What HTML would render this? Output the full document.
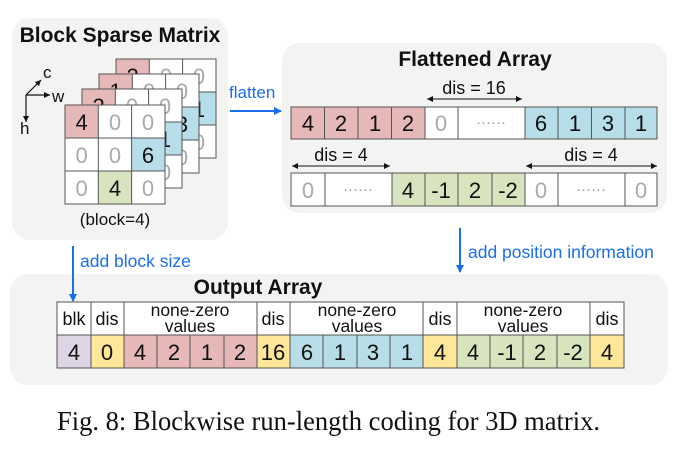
<!DOCTYPE html>
<html><head><style>
body{margin:0;background:#fff;}
svg text{font-family:"Liberation Sans",Arial,sans-serif;}
</style></head><body>
<svg width="685" height="451" viewBox="0 0 685 451" xmlns="http://www.w3.org/2000/svg">
<defs>
<marker id="ab" markerWidth="8" markerHeight="8" refX="7" refY="4" orient="auto" markerUnits="userSpaceOnUse"><path d="M0,0 L8,4 L0,8 z" fill="#1a6fe8"/></marker>
<marker id="ak" markerWidth="6" markerHeight="6" refX="6" refY="3" orient="auto-start-reverse" markerUnits="userSpaceOnUse"><path d="M0,0 L6,3 L0,6 z" fill="#111"/></marker>
</defs>
<rect x="12" y="18" width="216" height="222" rx="18" fill="#f3f3f1"/>
<rect x="282" y="43" width="385" height="170" rx="18" fill="#f3f3f1"/>
<rect x="10" y="274" width="658" height="111" rx="18" fill="#f3f3f1"/>
<text x="120" y="42" font-size="21" font-weight="bold" text-anchor="middle" fill="#111">Block Sparse Matrix</text>
<text x="475" y="66" font-size="21" font-weight="bold" text-anchor="middle" fill="#111">Flattened Array</text>
<text x="258" y="294" font-size="21" font-weight="bold" text-anchor="middle" fill="#111">Output Array</text>
<g stroke="#111" stroke-width="1.2" fill="none">
<line x1="26" y1="95" x2="41" y2="80" marker-end="url(#ak)"/>
<line x1="26" y1="95" x2="50" y2="95" marker-end="url(#ak)"/>
<line x1="26" y1="95" x2="26" y2="122" marker-end="url(#ak)"/>
</g>
<text x="43" y="78" font-size="17" fill="#111">c</text>
<text x="52" y="102" font-size="17" fill="#111">w</text>
<text x="20" y="134" font-size="17" fill="#111">h</text>
<g font-size="22" text-anchor="middle" stroke-width="1">
<g transform="translate(116,59)">
<rect x="0" y="0" width="33.3" height="33" fill="#e6b8b7"/><rect x="66.6" y="33" width="33.3" height="33" fill="#b7dde8"/>
<rect x="33.3" y="0" width="66.7" height="33" fill="#fff"/><rect x="0" y="33" width="66.6" height="66" fill="#fff"/><rect x="66.6" y="66" width="33.4" height="33" fill="#fff"/>
<g stroke="#555" fill="none"><rect x="0" y="0" width="100" height="99"/><line x1="33.3" y1="0" x2="33.3" y2="99"/><line x1="66.6" y1="0" x2="66.6" y2="99"/><line x1="0" y1="33" x2="100" y2="33"/><line x1="0" y1="66" x2="100" y2="66"/></g>
<text x="16.6" y="25" fill="#111">2</text><text x="50" y="25" fill="#aaa">0</text><text x="83" y="25" fill="#aaa">0</text><text x="83" y="58" fill="#111">1</text><text x="83" y="91" fill="#aaa">0</text>
</g>
<g transform="translate(99,74)">
<rect x="0" y="0" width="33.3" height="33" fill="#e6b8b7"/><rect x="66.6" y="33" width="33.3" height="33" fill="#b7dde8"/>
<rect x="33.3" y="0" width="66.7" height="33" fill="#fff"/><rect x="0" y="33" width="66.6" height="66" fill="#fff"/><rect x="66.6" y="66" width="33.4" height="33" fill="#fff"/>
<g stroke="#555" fill="none"><rect x="0" y="0" width="100" height="99"/><line x1="33.3" y1="0" x2="33.3" y2="99"/><line x1="66.6" y1="0" x2="66.6" y2="99"/><line x1="0" y1="33" x2="100" y2="33"/><line x1="0" y1="66" x2="100" y2="66"/></g>
<text x="16.6" y="25" fill="#111">1</text><text x="50" y="25" fill="#aaa">0</text><text x="83" y="25" fill="#aaa">0</text><text x="83" y="58" fill="#111">3</text><text x="83" y="91" fill="#aaa">0</text>
</g>
<g transform="translate(82,89)">
<rect x="0" y="0" width="33.3" height="33" fill="#e6b8b7"/><rect x="66.6" y="33" width="33.3" height="33" fill="#b7dde8"/>
<rect x="33.3" y="0" width="66.7" height="33" fill="#fff"/><rect x="0" y="33" width="66.6" height="66" fill="#fff"/><rect x="66.6" y="66" width="33.4" height="33" fill="#fff"/>
<g stroke="#555" fill="none"><rect x="0" y="0" width="100" height="99"/><line x1="33.3" y1="0" x2="33.3" y2="99"/><line x1="66.6" y1="0" x2="66.6" y2="99"/><line x1="0" y1="33" x2="100" y2="33"/><line x1="0" y1="66" x2="100" y2="66"/></g>
<text x="16.6" y="25" fill="#111">2</text><text x="50" y="25" fill="#aaa">0</text><text x="83" y="25" fill="#aaa">0</text><text x="83" y="58" fill="#111">1</text><text x="83" y="91" fill="#aaa">0</text>
</g>
<g transform="translate(65,105)">
<rect x="0" y="0" width="100" height="99" fill="#fff"/>
<rect x="0" y="0" width="33.3" height="33" fill="#e6b8b7"/><rect x="66.6" y="33" width="33.4" height="33" fill="#b7dde8"/><rect x="33.3" y="66" width="33.3" height="33" fill="#d7e4bd"/>
<g stroke="#555" fill="none"><rect x="0" y="0" width="100" height="99"/><line x1="33.3" y1="0" x2="33.3" y2="99"/><line x1="66.6" y1="0" x2="66.6" y2="99"/><line x1="0" y1="33" x2="100" y2="33"/><line x1="0" y1="66" x2="100" y2="66"/></g>
<text x="16.6" y="25" fill="#111">4</text><text x="50" y="25" fill="#aaa">0</text><text x="83" y="25" fill="#aaa">0</text>
<text x="16.6" y="58" fill="#aaa">0</text><text x="50" y="58" fill="#aaa">0</text><text x="83" y="58" fill="#111">6</text>
<text x="16.6" y="91" fill="#aaa">0</text><text x="50" y="91" fill="#111">4</text><text x="83" y="91" fill="#aaa">0</text>
</g>
</g>
<text x="115" y="225" font-size="17" text-anchor="middle" fill="#111">(block=4)</text>
<line x1="230" y1="111" x2="281" y2="111" stroke="#1a6fe8" stroke-width="2" marker-end="url(#ab)"/>
<text x="229" y="98" font-size="17" fill="#1a6fe8">flatten</text>
<g font-size="22" text-anchor="middle">
<rect x="291" y="107" width="134" height="32" fill="#e6b8b7"/>
<rect x="425" y="107" width="100" height="32" fill="#fff"/>
<rect x="525" y="107" width="132" height="32" fill="#b7dde8"/>
<g stroke="#555" fill="none"><rect x="291" y="107" width="366" height="32"/>
<path d="M324.5 107v32M358 107v32M391.5 107v32M425 107v32M458 107v32M525 107v32M558 107v32M591.5 107v32M625 107v32"/></g>
<text x="308" y="131" fill="#111">4</text><text x="341" y="131" fill="#111">2</text><text x="375" y="131" fill="#111">1</text><text x="408" y="131" fill="#111">2</text><text x="441" y="131" fill="#aaa">0</text>
<text x="491" y="127" fill="#999" font-size="15">······</text>
<text x="541" y="131" fill="#111">6</text><text x="575" y="131" fill="#111">1</text><text x="608" y="131" fill="#111">3</text><text x="641" y="131" fill="#111">1</text>
<rect x="291" y="173" width="366" height="33" fill="#fff"/>
<rect x="392" y="173" width="133" height="33" fill="#d7e4bd"/>
<g stroke="#555" fill="none"><rect x="291" y="173" width="366" height="33"/>
<path d="M325 173v33M392 173v33M425 173v33M458 173v33M492 173v33M525 173v33M558 173v33M625 173v33"/></g>
<text x="308" y="198" fill="#aaa">0</text><text x="358" y="194" fill="#999" font-size="15">······</text>
<text x="408" y="198" fill="#111">4</text><text x="441" y="198" fill="#111">-1</text><text x="475" y="198" fill="#111">2</text><text x="508" y="198" fill="#111">-2</text>
<text x="541" y="198" fill="#aaa">0</text><text x="591" y="194" fill="#999" font-size="15">······</text><text x="641" y="198" fill="#aaa">0</text>
</g>
<g stroke="#111" stroke-width="1">
<line x1="427" y1="99" x2="522" y2="99" marker-start="url(#ak)" marker-end="url(#ak)"/>
<line x1="292" y1="166" x2="390" y2="166" marker-start="url(#ak)" marker-end="url(#ak)"/>
<line x1="526" y1="166" x2="657" y2="166" marker-start="url(#ak)" marker-end="url(#ak)"/>
</g>
<g font-size="18" text-anchor="middle" fill="#111">
<text x="474" y="94">dis = 16</text><text x="341" y="161">dis = 4</text><text x="591" y="161">dis = 4</text>
</g>
<line x1="73" y1="246" x2="73" y2="301" stroke="#1a6fe8" stroke-width="2" marker-end="url(#ab)"/>
<text x="80" y="267" font-size="17.5" fill="#1a6fe8">add block size</text>
<line x1="460" y1="228" x2="460" y2="272" stroke="#1a6fe8" stroke-width="2" marker-end="url(#ab)"/>
<text x="468" y="258" font-size="17.5" fill="#1a6fe8">add position information</text>
<g font-size="22" text-anchor="middle">
<rect x="57" y="302" width="567" height="33" fill="#fff"/>
<rect x="57" y="335" width="34" height="33" fill="#ddd5e6"/>
<rect x="91" y="335" width="33" height="33" fill="#ffe699"/>
<rect x="124" y="335" width="133" height="33" fill="#e6b8b7"/>
<rect x="257" y="335" width="33" height="33" fill="#ffe699"/>
<rect x="290" y="335" width="133" height="33" fill="#b7dde8"/>
<rect x="423" y="335" width="34" height="33" fill="#ffe699"/>
<rect x="457" y="335" width="133" height="33" fill="#d7e4bd"/>
<rect x="590" y="335" width="34" height="33" fill="#ffe699"/>
<g stroke="#555" fill="none"><rect x="57" y="302" width="567" height="66"/><line x1="57" y1="335" x2="624" y2="335"/>
<path d="M91 302v66M124 302v66M257 302v66M290 302v66M423 302v66M457 302v66M590 302v66M157 335v33M190 335v33M224 335v33M323 335v33M357 335v33M390 335v33M490 335v33M523 335v33M557 335v33"/></g>
<g font-size="18" fill="#111">
<text x="74" y="325">blk</text><text x="107" y="325">dis</text><text x="273" y="325">dis</text><text x="440" y="325">dis</text><text x="607" y="325">dis</text>
</g>
<g font-size="17.5" fill="#111">
<text x="190" y="316">none-zero</text><text x="190" y="332">values</text>
<text x="357" y="316">none-zero</text><text x="357" y="332">values</text>
<text x="523" y="316">none-zero</text><text x="523" y="332">values</text>
</g>
<g fill="#111">
<text x="74" y="360">4</text><text x="107" y="360">0</text>
<text x="140" y="360">4</text><text x="174" y="360">2</text><text x="207" y="360">1</text><text x="240" y="360">2</text>
<text x="273" y="360">16</text>
<text x="307" y="360">6</text><text x="340" y="360">1</text><text x="373" y="360">3</text><text x="407" y="360">1</text>
<text x="440" y="360">4</text>
<text x="473" y="360">4</text><text x="507" y="360">-1</text><text x="540" y="360">2</text><text x="573" y="360">-2</text>
<text x="607" y="360">4</text>
</g>
</g>
<text x="57" y="430" font-size="27" textLength="543" lengthAdjust="spacingAndGlyphs" fill="#111" style="font-family:'Liberation Serif',serif">Fig. 8: Blockwise run-length coding for 3D matrix.</text>
</svg>
</body></html>
